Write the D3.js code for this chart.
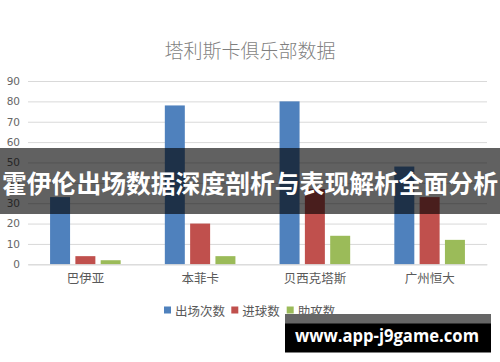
<!DOCTYPE html>
<html><head><meta charset="utf-8">
<script src="https://cdn.jsdelivr.net/npm/d3@7"></script>
<style>html,body{margin:0;padding:0;background:#fff;overflow:hidden}</style>
</head><body>
<svg id="c" width="500" height="362"></svg>
<script>
const categories = ["巴伊亚", "本菲卡", "贝西克塔斯", "广州恒大"];
const seriesNames = ["出场次数", "进球数", "助攻数"];
const appearances = [33, 78, 80, 48];
const goals = [4, 20, 37, 33];
const assists = [2, 4, 14, 12];
const yTicks = [0, 10, 20, 30, 40, 50, 60, 70, 80, 90];
const colors = ["#4f81bd", "#c0504d", "#9bbb59"];
const title = "塔利斯卡俱乐部数据";
const bannerText = "霍伊伦出场数据深度剖析与表现解析全面分析";
const watermark = "www.app-j9game.com";

const seriesValues = [appearances, goals, assists];
const cjk = "'Noto Sans CJK SC', 'Noto Sans', sans-serif";
const svg = d3.select("#c");

const x0 = d3.scaleBand().domain(categories).range([28, 487]).paddingInner(0).paddingOuter(0);
const x1 = d3.scaleBand().domain(seriesNames).range([0, 70.6]).paddingInner(0.21);
const y = d3.scaleLinear().domain([0, 90]).range([264.3, 81]);

// title
svg.append("text").attr("x", 250).attr("y", 49).attr("text-anchor", "middle")
  .attr("dominant-baseline", "central").attr("font-family", cjk).attr("font-weight", 300)
  .attr("font-size", 19).attr("fill", "#7f7f7f").text(title);

// grid
const yAxis = d3.axisLeft(y).tickValues(yTicks).tickSize(-(487 - 28)).tickPadding(8);
const gy = svg.append("g").attr("transform", "translate(28,0)").call(yAxis);
gy.select(".domain").remove();
gy.selectAll(".tick line").attr("stroke", "#d9d9d9").attr("stroke-width", 1);
gy.selectAll(".tick text").attr("font-family", "'DejaVu Sans', sans-serif").attr("font-size", 10.5)
  .attr("fill", "#666").attr("x", -8);

// bars
const groups = svg.append("g").selectAll("g").data(categories).join("g")
  .attr("transform", d => `translate(${x0(d) + x0.bandwidth() / 2 - 35.3},0)`);
groups.selectAll("rect").data((d, i) => seriesNames.map((s, j) => ({ s, j, v: seriesValues[j][i] })))
  .join("rect")
  .attr("x", d => x1(d.s)).attr("width", x1.bandwidth())
  .attr("y", d => y(d.v)).attr("height", d => y(0) - y(d.v))
  .attr("fill", d => colors[d.j]);

// x axis
const xAxis = d3.axisBottom(x0).tickSize(0).tickPadding(10);
const gx = svg.append("g").attr("transform", `translate(0,${y(0)})`).call(xAxis);
gx.select(".domain").attr("stroke", "#d9d9d9");
gx.selectAll(".tick text").attr("font-family", cjk).attr("font-size", 12.5).attr("fill", "#595959")
  .attr("dy", "0.71em");

// legend
const legendX = [164, 231.3, 286.7];
const lg = svg.append("g").selectAll("g").data(seriesNames).join("g")
  .attr("transform", (d, i) => `translate(${legendX[i]},306.5)`);
lg.append("rect").attr("width", 7).attr("height", 7).attr("fill", (d, i) => colors[i]);
lg.append("text").attr("x", 11).attr("y", 3.5).attr("dominant-baseline", "central")
  .attr("font-family", cjk).attr("font-size", 12.5).attr("fill", "#595959").text(d => d);

// banner overlay
svg.append("rect").attr("x", 0).attr("y", 148).attr("width", 500).attr("height", 66)
  .attr("fill", "rgba(0,0,0,0.62)");
svg.append("text").attr("x", 250).attr("y", 182).attr("text-anchor", "middle")
  .attr("dominant-baseline", "central").attr("font-family", cjk).attr("font-weight", 700)
  .attr("font-size", 24.8).attr("fill", "#fff").text(bannerText);

// watermark
svg.append("rect").attr("x", 285).attr("y", 314).attr("width", 206).attr("height", 10).attr("fill", "#666");
svg.append("rect").attr("x", 285).attr("y", 323.5).attr("width", 206).attr("height", 29).attr("fill", "#000");
svg.append("text").attr("x", 295).attr("y", 342.3).attr("font-family", "'Open Sans', 'DejaVu Sans', sans-serif")
  .attr("font-weight", 700).attr("font-size", 17.5).attr("fill", "#fff")
  .attr("textLength", 184).attr("lengthAdjust", "spacingAndGlyphs").text(watermark);
</script>
</body></html>
